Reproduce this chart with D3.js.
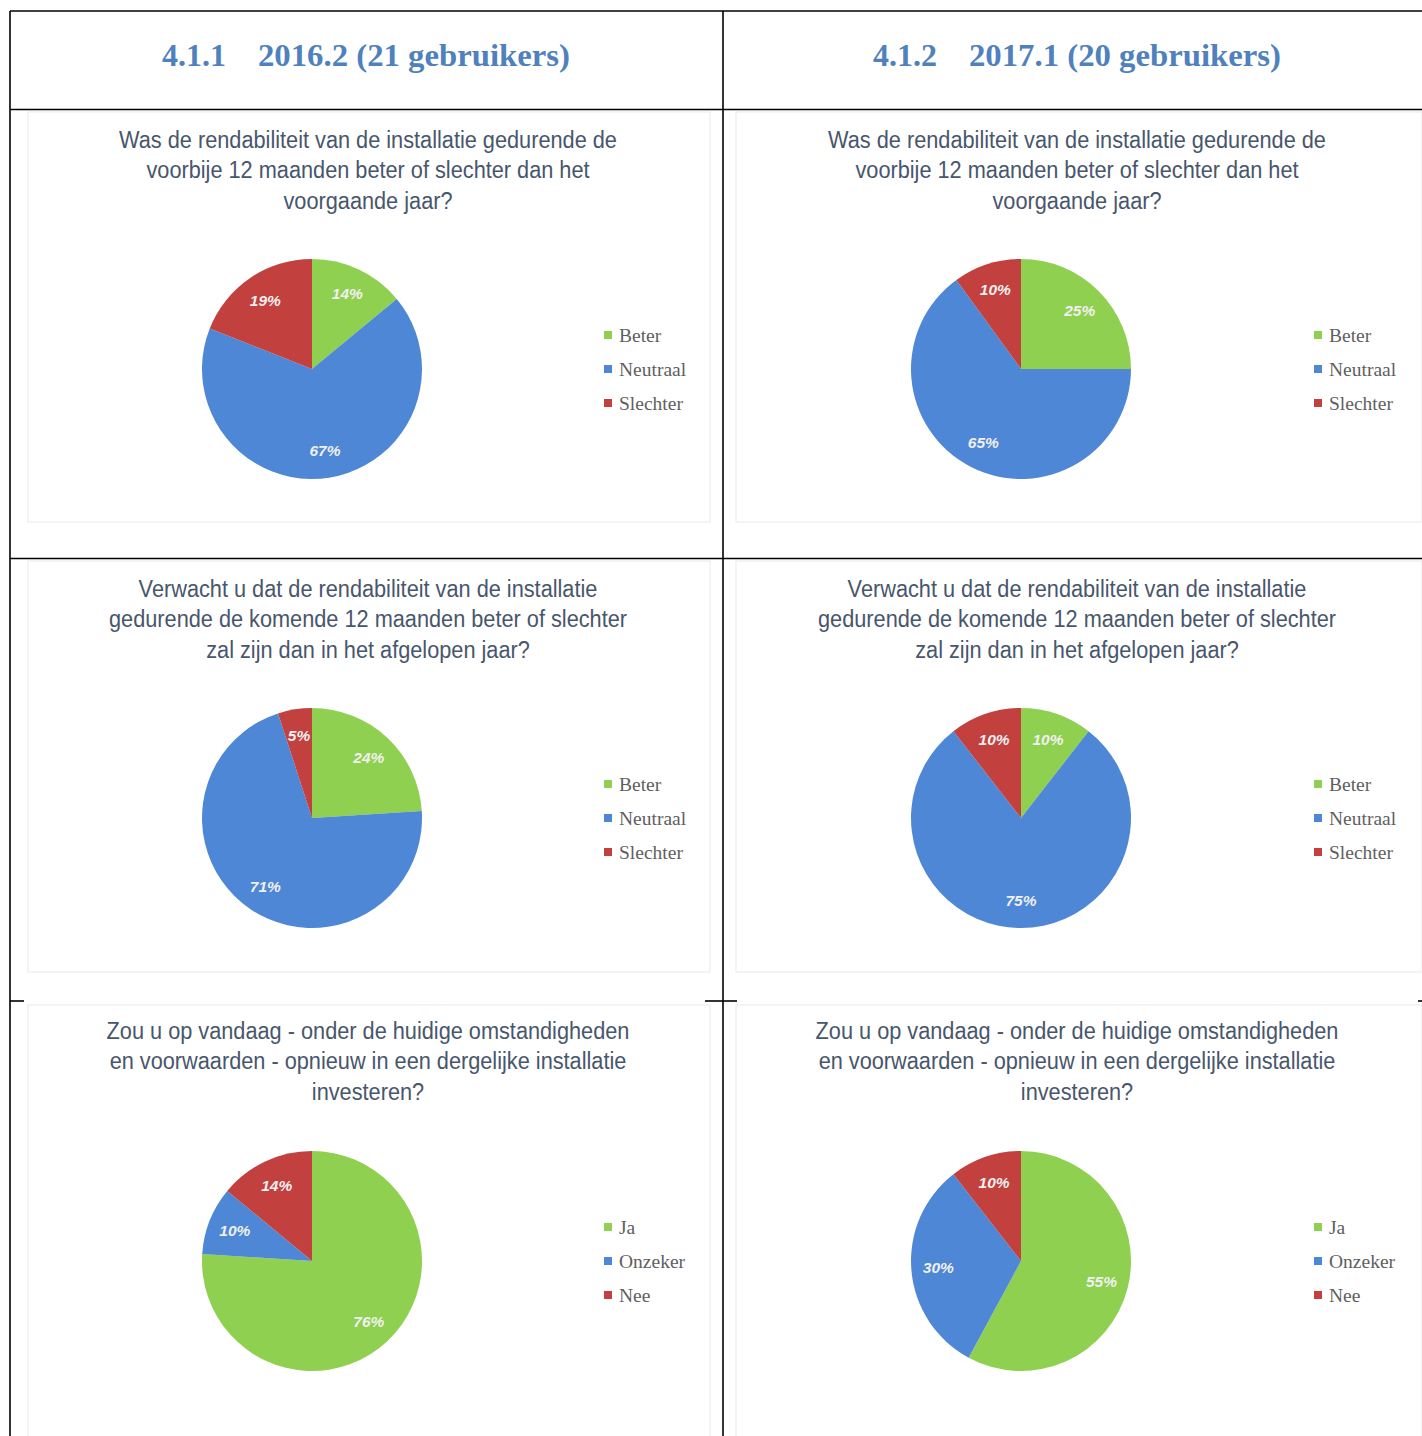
<!DOCTYPE html>
<html><head><meta charset="utf-8">
<script src="https://cdn.jsdelivr.net/npm/d3@7"></script>
<style>html,body{margin:0;padding:0;background:#fff;}svg{display:block;}</style>
</head><body>
<script>
// ---- data ----
const sectionNumbers = ["4.1.1", "4.1.2"];
const sectionTitles = ["2016.2 (21 gebruikers)", "2017.1 (20 gebruikers)"];
const questions = [
  ["Was de rendabiliteit van de installatie gedurende de", "voorbije 12 maanden beter of slechter dan het", "voorgaande jaar?"],
  ["Verwacht u dat de rendabiliteit van de installatie", "gedurende de komende 12 maanden beter of slechter", "zal zijn dan in het afgelopen jaar?"],
  ["Zou u op vandaag - onder de huidige omstandigheden", "en voorwaarden - opnieuw in een dergelijke installatie", "investeren?"]
];
const categoriesRendement = ["Beter", "Neutraal", "Slechter"];
const categoriesInvest = ["Ja", "Onzeker", "Nee"];
const q1_2016 = [14, 67, 19];
const q1_2017 = [25, 65, 10];
const q2_2016 = [24, 71, 5];
const q2_2017 = [10, 75, 10];
const q3_2016 = [76, 10, 14];
const q3_2017 = [55, 30, 10];

const charts = [
  {row: 0, col: 0, cats: categoriesRendement, vals: q1_2016},
  {row: 0, col: 1, cats: categoriesRendement, vals: q1_2017},
  {row: 1, col: 0, cats: categoriesRendement, vals: q2_2016},
  {row: 1, col: 1, cats: categoriesRendement, vals: q2_2017},
  {row: 2, col: 0, cats: categoriesInvest, vals: q3_2016},
  {row: 2, col: 1, cats: categoriesInvest, vals: q3_2017}
];

// ---- layout / style ----
const W = 1422, H = 1436;
const colors = ["#8fd050", "#4e87d5", "#c2403e"];
const pieCx = [312, 1021];
const pieCy = [369, 818, 1261];
const R = 110, labelR = 83;
const titleCx = [368, 1077];
const titleY = [148, 597, 1039];
const legendX = [604, 1314];
const headerNumX = [162, 873];
const headerTitleX = [258, 969];

const svg = d3.select("body").append("svg").attr("width", W).attr("height", H);

// faint chart image frames
const frameY = [[112, 522], [561, 972], [1005, 1440]];
const frameX = [[28, 710], [736, 1422]];
frameY.forEach(fy => frameX.forEach(fx => {
  svg.append("rect").attr("x", fx[0]).attr("y", fy[0]).attr("width", fx[1] - fx[0]).attr("height", fy[1] - fy[0])
    .attr("fill", "#fff").attr("stroke", "#f1f1f1").attr("stroke-width", 1.5);
}));

// table lines
const line = (x1, y1, x2, y2, w) => svg.append("line").attr("x1", x1).attr("y1", y1).attr("x2", x2).attr("y2", y2)
  .attr("stroke", "#000").attr("stroke-width", w || 1.6);
line(10, 11, W, 11);
line(10, 11, 10, H);
line(723, 11, 723, H);
line(10, 109.5, W, 109.5);
line(10, 558.5, W, 558.5);
line(10, 1001, 24, 1001);
line(705, 1001, 737, 1001);
line(1418, 1001, W, 1001);

// headers
const headerFont = "'Liberation Serif', 'DejaVu Serif', serif";
sectionNumbers.forEach((n, i) => {
  svg.append("text").attr("x", headerNumX[i]).attr("y", 66)
    .attr("font-family", headerFont).attr("font-weight", "bold")
    .attr("font-size", 31).attr("fill", "#4f81bd").attr("textLength", 64).attr("lengthAdjust", "spacingAndGlyphs").text(n);
  svg.append("text").attr("x", headerTitleX[i]).attr("y", 66)
    .attr("font-family", headerFont).attr("font-weight", "bold")
    .attr("font-size", 31).attr("fill", "#4f81bd").attr("textLength", 312).attr("lengthAdjust", "spacingAndGlyphs").text(sectionTitles[i]);
});

const pie = d3.pie().sort(null).value(d => d);
const arc = d3.arc().innerRadius(0).outerRadius(R);
const labelArc = d3.arc().innerRadius(labelR).outerRadius(labelR);

charts.forEach(c => {
  // title (narrow look via horizontal scale)
  const tg = svg.append("g").attr("transform", `translate(${titleCx[c.col]},${titleY[c.row]}) scale(0.945,1)`);
  const t = tg.append("text").attr("text-anchor", "middle")
    .attr("font-family", "'Liberation Sans', Arial, sans-serif")
    .attr("font-size", 23).attr("fill", "#48566c");
  questions[c.row].forEach((ln, k) => {
    t.append("tspan").attr("x", 0).attr("y", k * 30.5).text(ln);
  });
  // pie
  const g = svg.append("g").attr("transform", `translate(${pieCx[c.col]},${pieCy[c.row]})`);
  const arcs = pie(c.vals);
  g.selectAll("path").data(arcs).join("path").attr("d", arc).attr("fill", (d, i) => colors[i]);
  g.selectAll("text").data(arcs).join("text")
    .attr("transform", d => `translate(${labelArc.centroid(d)})`)
    .attr("text-anchor", "middle").attr("dy", "0.35em")
    .attr("font-family", "'Liberation Sans', Arial, sans-serif").attr("font-style", "italic").attr("font-weight", "bold")
    .attr("font-size", 15.5).attr("fill", "#f0f0f0")
    .text(d => d.data + "%");
  // legend
  const lg = svg.append("g");
  c.cats.forEach((cat, i) => {
    const y = pieCy[c.row] - 34 + i * 34;
    lg.append("rect").attr("x", legendX[c.col]).attr("y", y - 4).attr("width", 8).attr("height", 8).attr("fill", colors[i]);
    lg.append("text").attr("x", legendX[c.col] + 15).attr("y", y).attr("dy", "0.35em")
      .attr("font-family", "'Liberation Serif', 'DejaVu Serif', serif").attr("font-size", 19.5).attr("fill", "#5f5f5f")
      .text(cat);
  });
});
</script>
</body></html>
